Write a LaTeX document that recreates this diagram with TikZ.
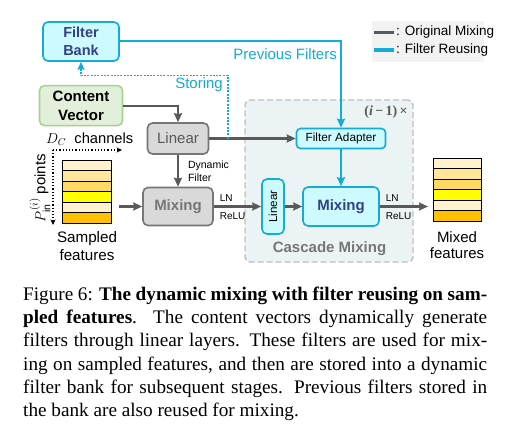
\documentclass[tikz,border=0pt]{standalone}
\usepackage{fontspec}
\setmainfont{Liberation Sans}
\newfontfamily\capfont{Liberation Serif}
\usepackage{amsmath,amssymb}
\usepackage{xcolor}
\usepackage{tikz}
\usetikzlibrary{
  arrows.meta,
  calc,
  positioning
}
\definecolor{reuseblue}{RGB}{20,172,212}
\definecolor{bankfill}{RGB}{204,250,255}
\definecolor{banktext}{RGB}{50,66,130}
\definecolor{vecgreen}{RGB}{226,239,218}
\definecolor{vecedge}{RGB}{169,209,142}
\definecolor{origgray}{RGB}{89,89,89}
\definecolor{boxgray}{RGB}{217,217,217}
\definecolor{edgegray}{RGB}{118,118,118}
\definecolor{cascfill}{RGB}{236,243,245}
\definecolor{cascedge}{RGB}{191,191,191}
\definecolor{legfill}{RGB}{242,242,242}
\definecolor{featA}{RGB}{255,242,204}
\definecolor{featB}{RGB}{255,230,153}
\definecolor{featC}{RGB}{255,217,102}
\definecolor{featD}{RGB}{255,255,0}
\definecolor{featE}{RGB}{255,192,0}

\begin{document}
\begin{tikzpicture}[
  x=1pt, y=-1pt,
  block/.style={draw, rounded corners=5pt, line width=1.6pt, inner sep=0pt,
                align=center, font=\fontsize{15}{18}\selectfont},
  reuse/.style={block, draw=reuseblue, fill=bankfill},
  orig/.style={block, draw=edgegray, fill=boxgray},
  arr/.style={-{Stealth[length=9pt, width=8pt, inset=1pt]}, line width=2.1pt, origgray},
  rarr/.style={arr, reuseblue},
  store/.style={-{Stealth[length=8pt, width=7pt, inset=1pt]}, line width=1.2pt,
                reuseblue, dash pattern=on 2pt off 1.3pt},
  axis/.style={-{Stealth[length=5.5pt, width=5pt]}, line width=1.2pt, dotted},
  lbl/.style={inner sep=0pt, text=black, font=\fontsize{10.5}{13}\selectfont},
  rlbl/.style={inner sep=0pt, text=reuseblue, font=\fontsize{15}{18}\selectfont},
  feat/.style={draw, line width=1pt, minimum width=49pt, minimum height=10.5pt, inner sep=0pt},
  capline/.style={anchor=base west, inner sep=0pt, font=\capfont\fontsize{19.2}{22}\selectfont},
  node distance=0.4cm
]
  \path[use as bounding box, fill=white] (0,0) rectangle (518,436);

  % Legend
  \node[fill=legfill, minimum width=112pt, minimum height=41pt, inner sep=0pt] (legend) at (428,41.5) {};
  \node[lbl, anchor=west, font=\fontsize{13.5}{16}\selectfont] (legA) at (396,32.5) {: Original Mixing};
  \node[lbl, anchor=west, font=\fontsize{13.5}{16}\selectfont] (legB) at (396,50) {: Filter Reusing};
  \draw[line width=3.5pt, origgray] ([xshift=-22pt]legA.west) -- ([xshift=-2pt]legA.west);
  \draw[line width=3.5pt, reuseblue] ([xshift=-22pt]legB.west) -- ([xshift=-2pt]legB.west);

  % Cascade part
  \node[draw=cascedge, fill=cascfill, dash pattern=on 6pt off 3pt, line width=1.4pt,
        rounded corners=5pt, minimum width=168pt, minimum height=162pt] (casc) at (329,181) {};
  \node[text=origgray, inner sep=0pt, font=\capfont\bfseries\fontsize{14}{15}\selectfont] (times) at (386,112)
    {(\textit{i}\,\textminus\,1)\,×};
  \node[text=edgegray, inner sep=0pt, font=\bfseries\fontsize{15}{18}\selectfont] (casclbl) at (329.5,249)
    {Cascade Mixing};

  % Bank and content
  \node[reuse, minimum width=76pt, minimum height=39pt, text=banktext,
        font=\bfseries\fontsize{14.5}{18}\selectfont] (bank) at (81,41.5) {Filter\\Bank};
  \node[block, draw=vecedge, fill=vecgreen, minimum width=83pt, minimum height=40pt,
        font=\bfseries\fontsize{15}{19}\selectfont, below=23pt of bank] (content) {Content\\Vector};

  % Original mixing
  \node[orig, minimum width=61pt, minimum height=31pt, text=origgray] (linA) at (178,138.5) {Linear};
  \node[orig, minimum width=70pt, minimum height=38pt, text=edgegray,
        font=\bfseries\fontsize{15}{18}\selectfont] (mixA) at (178,206.5) {Mixing};

  % Filter reusing
  \node[reuse, minimum width=89pt, minimum height=20pt, rounded corners=4pt,
        font=\fontsize{11.8}{14}\selectfont] (adapter) at (341,138.5) {Filter Adapter};
  \node[reuse, minimum width=22pt, minimum height=55pt,
        font=\fontsize{11.6}{14}\selectfont] (linB) at (273,206.5) {\rotatebox{90}{Linear}};
  \node[reuse, minimum width=76pt, minimum height=39pt, text=banktext,
        font=\bfseries\fontsize{15}{18}\selectfont] (mixB) at (341,206.5) {Mixing};

  % Features
  \foreach \c [count=\k] in {featA,featB,featC,featD,featA,featE}{
    \node[feat, fill=\c] (s\k) at (86.5,{154.75+10.5*\k}) {};
    \node[feat, fill=\c, minimum width=48pt] (m\k) at (457,{153.1+10.45*\k}) {};
  }
  \node[inner sep=0pt, align=center, font=\fontsize{15.2}{18}\selectfont] (samplbl) at (87,246) {Sampled\\features};
  \node[inner sep=0pt, align=center, font=\fontsize{15}{16.5}\selectfont] (mixlbl) at (457,245) {Mixed\\features};

  % Axes
  \coordinate (orig) at (53,150);
  \coordinate (axx) at (122,150);
  \coordinate (axy) at (53,225);
  \draw[axis] (orig) -- (axx);
  \draw[axis] (orig) -- (axy);
  \node[inner sep=0pt, anchor=west, font=\fontsize{14.7}{18}\selectfont] (chlbl) at (46,139) {$D_C$\ \ channels};
  \node[inner sep=0pt, rotate=90, font=\fontsize{15}{18}\selectfont] (ptlbl) at (40,188) {$P_{\text{in}}^{(i)}$\ points};

  % Arrows
  \coordinate (sampout) at (119,206.5);
  \coordinate (mixin) at (428,206.5);
  \coordinate (st) at (228,138.5);
  \draw[arr] (content.east) -| (linA.north);
  \draw[arr] (linA.east) -- (adapter.west);
  \draw[arr] (linA.south) -- (mixA.north)
    node[lbl, midway, right=9pt, align=left] (dynlbl) {Dynamic\\Filter};
  \draw[arr] (sampout) -- (mixA.west);
  \draw[arr] (mixA.east) -- (linB.west)
    node[lbl, at start, above right=4pt and 5pt, font=\fontsize{10}{11}\selectfont] (lnA) {LN}
    node[lbl, at start, below right=5pt and 5pt, font=\fontsize{10}{11}\selectfont] (reluA) {ReLU};
  \draw[arr] (linB.east) -- (mixB.west);
  \draw[arr] (mixB.east) -- (mixin)
    node[lbl, at start, above right=4pt and 5pt, font=\fontsize{10}{11}\selectfont] (lnB) {LN}
    node[lbl, at start, below right=5pt and 5pt, font=\fontsize{10}{11}\selectfont] (reluB) {ReLU};
  \draw[rarr, line width=2pt] (bank.east) -| (adapter.north);
  \draw[rarr, line width=2pt] (adapter.south) -- (mixB.north);
  \draw[store] (st) |- ([yshift=-14pt]bank.south) -- (bank.south);
  \node[rlbl, anchor=east] (prevlbl) at (337,54) {Previous Filters};
  \node[rlbl, anchor=east] (storelbl) at (223,85) {Storing};

  % Caption
  \node[capline] (cap1) at (23,300) {\makebox[464pt][s]{Figure 6: \textbf{The dynamic mixing with filter reusing on sam-}}};
  \node[capline] (cap2) at (23,323.3) {\makebox[464pt][s]{\textbf{pled features}. The content vectors dynamically generate}};
  \node[capline] (cap3) at (23,346.6) {\makebox[464pt][s]{filters through linear layers. These filters are used for mix-}};
  \node[capline] (cap4) at (23,370) {\makebox[464pt][s]{ing on sampled features, and then are stored into a dynamic}};
  \node[capline] (cap5) at (23,393.3) {\makebox[464pt][s]{filter bank for subsequent stages. Previous filters stored in}};
  \node[capline] (cap6) at (23,416.6) {the bank are also reused for mixing.};

\end{tikzpicture}
\end{document}
